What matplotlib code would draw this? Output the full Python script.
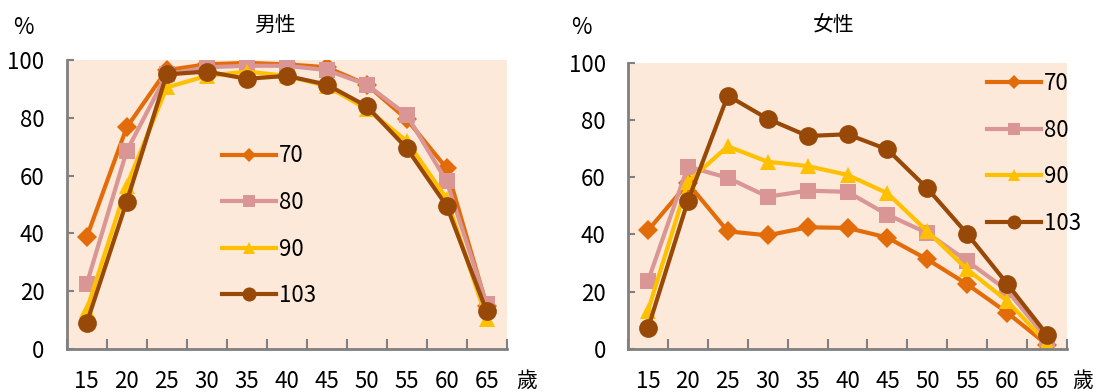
import numpy as np
import matplotlib.pyplot as plt

plt.rcParams['font.family'] = ['Noto Sans CJK TC', 'DejaVu Sans']

ages = ['15', '20', '25', '30', '35', '40', '45', '50', '55', '60', '65']
years = ['70', '80', '90', '103']

male_70 = [38.7, 76.7, 96.5, 98.5, 99.0, 98.5, 97.5, 91.5, 79.5, 62.5, 15.0]
male_80 = [22.5, 68.5, 95.0, 97.5, 98.0, 98.0, 96.5, 91.5, 81.0, 58.0, 15.5]
male_90 = [13.5, 56.5, 90.5, 94.5, 96.0, 94.5, 91.0, 83.0, 72.0, 52.0, 10.5]
male_103 = [9.0, 51.0, 95.0, 96.0, 93.5, 94.5, 91.5, 84.0, 69.5, 49.5, 13.0]

female_70 = [41.4, 57.9, 41.1, 39.7, 42.5, 42.3, 38.9, 31.3, 22.6, 12.7, 1.5]
female_80 = [23.7, 63.7, 59.8, 53.2, 55.3, 54.9, 46.9, 40.5, 30.7, 20.5, 3.5]
female_90 = [13.3, 58.4, 70.8, 65.4, 63.9, 60.8, 54.4, 41.1, 27.8, 16.8, 2.0]
female_103 = [7.2, 51.7, 88.5, 80.4, 74.4, 75.0, 69.7, 56.1, 40.2, 22.8, 5.0]

colors = ['#E36C0A', '#D99694', '#FFC000', '#984807']
markers = ['D', 's', '^', 'o']
msizes = [10, 11, 12, 13.5]

W, H = 1096, 392
fig = plt.figure(figsize=(W / 100, H / 100), dpi=100)

def draw(left, right, top, series, title, leg_xy, pct_x, title_x, age_x):
    ax = fig.add_axes([left / W, 1 - 349 / H, (right - left) / W, (349 - top) / H])
    ax.set_facecolor('#FDE9D9')
    x = np.arange(len(ages))
    for s, lab, c, m, ms in zip(series, years, colors, markers, msizes):
        ax.plot(x, s, color=c, lw=3, marker=m, ms=ms, mew=0, label=lab)
    ax.set_xlim(-0.5, len(ages) - 0.5)
    ax.set_ylim(0, 100)
    ax.set_yticks([0, 20, 40, 60, 80, 100])
    ax.set_xticks(x)
    ax.set_xticklabels(ages)
    ax.set_xticks(np.arange(-0.5, len(ages), 1), minor=True)
    ax.tick_params(axis='x', which='major', length=0, pad=15, labelsize=16)
    ax.tick_params(axis='x', which='minor', direction='in', length=7,
                   width=1.5, color='#808080')
    ax.tick_params(axis='y', direction='in', length=5, width=1.5,
                   color='#808080', pad=16, labelsize=16)
    for sp in ['top', 'right']:
        ax.spines[sp].set_visible(False)
    for sp in ['left', 'bottom']:
        ax.spines[sp].set_color('#808080')
        ax.spines[sp].set_linewidth(2)
    ax.legend(loc='upper left', bbox_to_anchor=(leg_xy[0] / W, 1 - leg_xy[1] / H),
              bbox_transform=fig.transFigure, frameon=False,
              fontsize=16, handlelength=2.43, handletextpad=0.15,
              labelspacing=1.06, numpoints=1, borderaxespad=0, borderpad=0,
              markerscale=0.75)
    fig.text(pct_x / W, 1 - 27 / H, '%', fontsize=16, ha='center', va='center')
    fig.text(title_x / W, 1 - 25 / H, title, fontsize=15, ha='center', va='center')
    fig.text(age_x / W, 1 - 381 / H, '歲', fontsize=15, ha='center', va='center')
    return ax

draw(66.7, 506.7, 60, [male_70, male_80, male_90, male_103], '男性',
     (221.7, 144.5), 23, 275, 527)
draw(628, 1067, 62.7, [female_70, female_80, female_90, female_103], '女性',
     (986.7, 72), 581, 834, 1083)

fig.savefig('out.png', dpi=100)
